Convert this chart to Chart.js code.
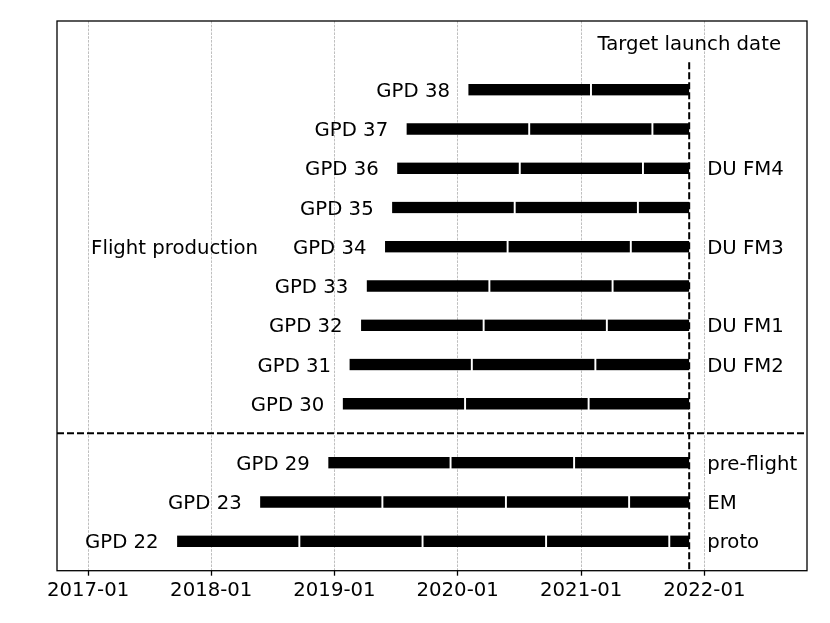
<!DOCTYPE html>
<html>
<head>
<meta charset="utf-8">
<script src="https://cdn.jsdelivr.net/npm/chart.js@4.4.0/dist/chart.umd.min.js"></script>
<style>
  html, body { margin: 0; padding: 0; background: #fff; }
  #wrap { width: 830px; height: 623px; }
</style>
</head>
<body>
<div id="wrap"><canvas id="chart"></canvas></div>
<script>
// detectors, bottom to top
const detectors = ['GPD 22', 'GPD 23', 'GPD 29', 'GPD 30', 'GPD 31', 'GPD 32',
                   'GPD 33', 'GPD 34', 'GPD 35', 'GPD 36', 'GPD 37', 'GPD 38'];
const rows = [0, 1, 2, 3.5, 4.5, 5.5, 6.5, 7.5, 8.5, 9.5, 10.5, 11.5];
const startDates = ['2017-09-19', '2018-05-23', '2018-12-11', '2019-01-23',
                    '2019-02-12', '2019-03-18', '2019-04-04', '2019-05-28',
                    '2019-06-18', '2019-07-03', '2019-07-31', '2020-01-30'];
const notes = ['proto', 'EM', 'pre-flight', '', 'DU FM2', 'DU FM1',
               '', 'DU FM3', '', 'DU FM4', '', ''];
const targetDate = '2021-11-17';
const yearTicks = [2017, 2018, 2019, 2020, 2021, 2022];
const axisStart = '2016-10-01';
const axisEnd = '2022-11-01';
const sectionRow = 2.75;
const flightText = 'Flight production';
const flightDate = '2017-01-10';
const flightRow = 7.5;
const targetText = 'Target launch date';
const targetTextRow = 12.7;
const targetLineTop = 12.2;

const FONT = '"DejaVu Sans", sans-serif';
const FS = 19.7;

function toMs(s) {
    return Date.parse(s + 'T00:00:00Z');
}

function addYears(ms, k) {
    const d = new Date(ms);
    d.setUTCFullYear(d.getUTCFullYear() + k);
    return d.getTime();
}

// one bar piece per year of production, up to the launch date
const target = toMs(targetDate);
const segments = [];
startDates.forEach((s, i) => {
    let t = toMs(s);
    while (t < target) {
        const next = addYears(t, 1);
        segments.push({ x: [t, Math.min(next, target)], y: rows[i] });
        t = next;
    }
});

function putText(ctx, text, x, yCenter, align) {
    ctx.textAlign = align;
    ctx.textBaseline = 'alphabetic';
    ctx.fillText(text, x, yCenter + FS * 0.36);
}

const decorations = {
    id: 'decorations',
    afterDatasetsDraw(chart) {
        const { ctx, chartArea: a, scales: { x, y } } = chart;
        ctx.save();

        ctx.strokeStyle = '#000';
        ctx.lineWidth = 2;
        ctx.setLineDash([7, 3]);
        const tx = x.getPixelForValue(target);
        ctx.beginPath();
        ctx.moveTo(tx, y.getPixelForValue(targetLineTop));
        ctx.lineTo(tx, a.bottom);
        ctx.stroke();
        const sy = y.getPixelForValue(sectionRow);
        ctx.beginPath();
        ctx.moveTo(a.left, sy);
        ctx.lineTo(a.right, sy);
        ctx.stroke();
        ctx.setLineDash([]);

        ctx.lineWidth = 1.3;
        ctx.strokeRect(a.left, a.top, a.right - a.left, a.bottom - a.top);

        ctx.fillStyle = '#000';
        ctx.font = FS + 'px ' + FONT;
        detectors.forEach((name, i) => {
            const py = y.getPixelForValue(rows[i]);
            putText(ctx, name, x.getPixelForValue(toMs(startDates[i])) - 17.5, py, 'right');
            if (notes[i]) putText(ctx, notes[i], tx + 18, py, 'left');
        });
        putText(ctx, flightText, x.getPixelForValue(toMs(flightDate)), y.getPixelForValue(flightRow), 'left');
        putText(ctx, targetText, tx, y.getPixelForValue(targetTextRow), 'center');

        ctx.restore();
    }
};

const ctx = document.getElementById('chart').getContext('2d');
const chart = new Chart(ctx, {
    type: 'bar',
    data: {
        datasets: [{
            data: segments,
            backgroundColor: '#000',
            borderColor: '#fff',
            borderWidth: function(c) {
                const last = c.raw && c.raw.x[1] >= target;
                return { left: 1.3, right: last ? 0 : 1.3, top: 0, bottom: 0 };
            },
            borderSkipped: false,
            barThickness: 11.5
        }]
    },
    options: {
        indexAxis: 'y',
        responsive: true,
        maintainAspectRatio: false,
        animation: false,
        layout: { padding: { left: 57, right: 23, top: 21, bottom: 0 } },
        plugins: { legend: { display: false }, tooltip: { enabled: false } },
        scales: {
            y: { type: 'linear', min: -0.75, max: 13.25, offset: false, display: false },
            x: {
                type: 'linear',
                min: toMs(axisStart),
                max: toMs(axisEnd),
                afterBuildTicks(scale) {
                    scale.ticks = yearTicks.map(yr => ({ value: Date.UTC(yr, 0, 1) }));
                },
                afterFit(scale) {
                    scale.height = 52.3;
                },
                grid: {
                    color: '#b8b8b8',
                    lineWidth: 0.9,
                    tickColor: '#000',
                    tickLength: 5,
                    tickWidth: 1.3,
                    tickBorderDash: []
                },
                border: { display: false, dash: [2.6, 1.2] },
                ticks: {
                    color: '#000',
                    font: { family: FONT, size: FS },
                    padding: 3,
                    maxRotation: 0,
                    autoSkip: false,
                    callback: function(v) {
                        const d = new Date(v);
                        return d.getUTCFullYear() + '-' + String(d.getUTCMonth() + 1).padStart(2, '0');
                    }
                }
            }
        }
    },
    plugins: [decorations]
});
</script>
</body>
</html>
